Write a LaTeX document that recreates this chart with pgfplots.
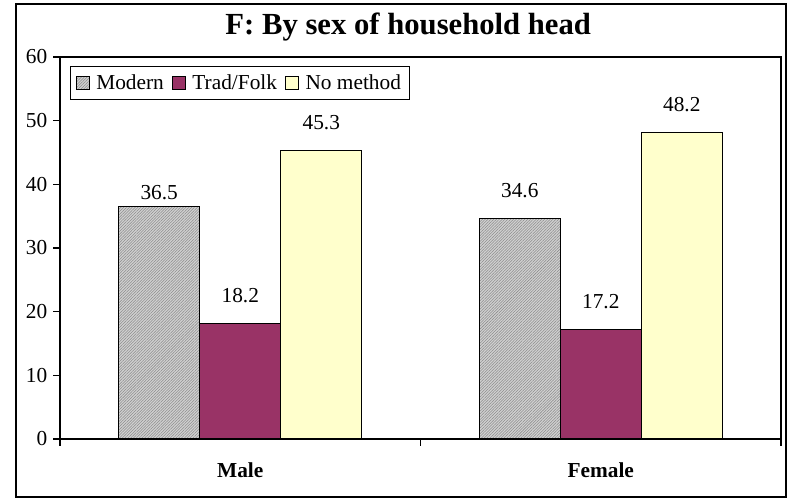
\documentclass[border=0pt]{standalone}
\usepackage{fontspec}
\setmainfont{Liberation Serif}
\usepackage{pgfplots}
\usepackage{pgfplotstable}
\pgfplotsset{compat=1.18}
\usetikzlibrary{patterns.meta}
\definecolor{plum}{HTML}{993366}
\definecolor{cream}{HTML}{FFFFCC}

% x: 0 = Male, 1 = Female; off = gap of the value label above the bar (pt)
\pgfplotstableread{
x y off
0 36.5 4.5
1 34.6 15
}\modern
\pgfplotstableread{
x y off
0 18.2 15
1 17.2 15
}\trad
\pgfplotstableread{
x y off
0 45.3 15
1 48.2 15
}\nomethod

\begin{document}
\begin{tikzpicture}
\begin{axis}[
    scale only axis,
    width=540.75pt, height=286.5pt,
    at={(0,0)}, anchor=south west,
    ybar=0pt,
    bar width=60.75pt,
    xmin=-0.5, xmax=1.5,
    ymin=0, ymax=60,
    ytick={0,10,...,60},
    xtick={0,1},
    xticklabels={Male,Female},
    minor xtick={-0.5,0.5,1.5},
    major x tick style={draw=none},
    minor tick length=5pt,
    major tick length=5pt,
    tick align=outside,
    xtick pos=bottom, ytick pos=left,
    axis line style={line width=0.8pt},
    tick style={black, line width=0.8pt},
    /pgf/number format/assume math mode=true,
    /pgf/number format/.cd, fixed, precision=1, /pgfplots/.cd,
    yticklabel style={font=\fontsize{16}{19}\selectfont, xshift=-1pt},
    xticklabel style={font=\bfseries\fontsize{16}{19}\selectfont, yshift=-9pt},
    title={F: By sex of household head},
    title style={font=\bfseries\fontsize{23}{27}\selectfont, at={(0.483,1)}, anchor=base, yshift=11pt},
    nodes near coords,
    every node near coord/.append style={font=\fontsize{16}{19}\selectfont, anchor=south, inner sep=0pt, yshift=\off pt},
    legend columns=-1,
    legend style={at={(0.014,0.976)}, anchor=north west, draw=black, line width=0.6pt,
        font=\fontsize{16}{19}\selectfont, inner xsep=4pt, inner ysep=4pt,
        /tikz/every even column/.append style={column sep=4pt},
        /tikz/every odd column/.append style={column sep=3pt}},
    legend image code/.code={\draw[#1, line width=0.8pt] (0pt,-4.8pt) rectangle (9.6pt,4.8pt);},
]
\addplot[draw=black, line width=0.9pt, fill=black!18,
    postaction={pattern={Lines[angle=45, distance=1.5pt, line width=0.4pt]}, pattern color=black!45},
    visualization depends on={\thisrow{off} \as \off}]
    table[x=x, y=y] {\modern};
\addplot[draw=black, line width=0.9pt, fill=plum,
    visualization depends on={\thisrow{off} \as \off}]
    table[x=x, y=y] {\trad};
\addplot[draw=black, line width=0.9pt, fill=cream,
    visualization depends on={\thisrow{off} \as \off}]
    table[x=x, y=y] {\nomethod};
\legend{Modern, Trad/Folk, No method}
\end{axis}
% outer chart frame and page size
\path (-45pt,-44.25pt) rectangle (546pt,329.25pt);
\draw[line width=0.9pt] (-33pt,-43.5pt) rectangle (544.5pt,326.25pt);
\end{tikzpicture}
\end{document}
